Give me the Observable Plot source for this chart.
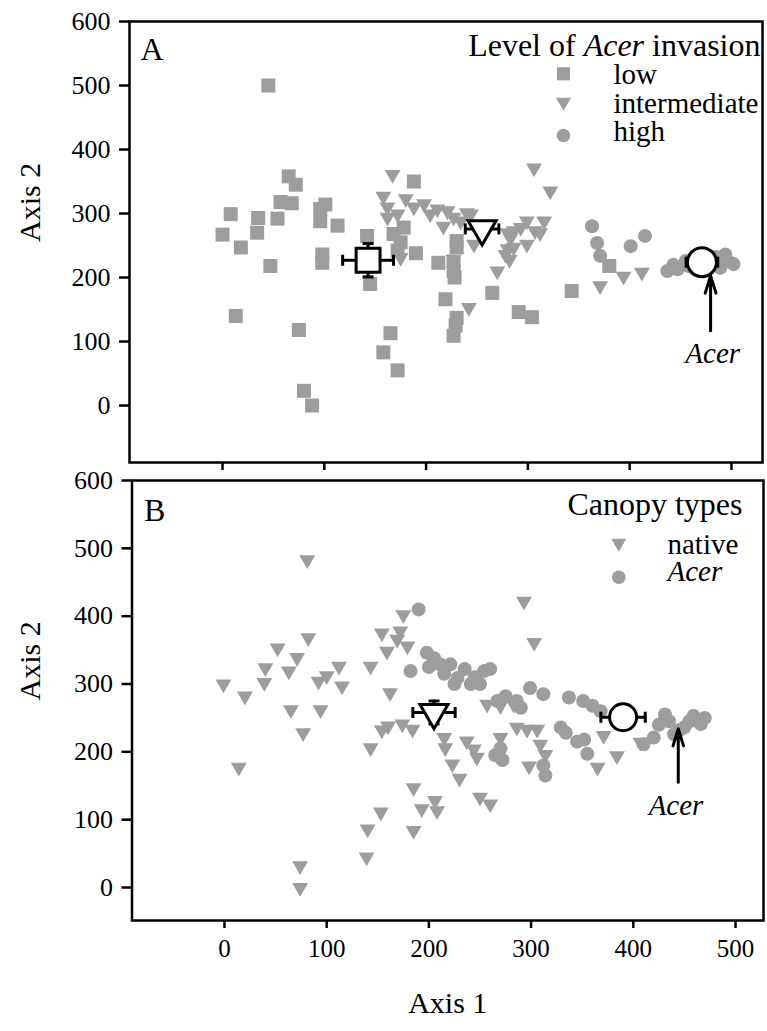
<!DOCTYPE html>
<html>
<head>
<meta charset="utf-8">
<script src="https://cdn.jsdelivr.net/npm/d3@7"></script>
<script src="https://cdn.jsdelivr.net/npm/@observablehq/plot@0.6"></script>
<style>
  html, body { margin: 0; padding: 0; background: #fff; }
  #chart { position: relative; width: 767px; height: 1031px; background: #fff; font-family: 'Liberation Serif', 'Times New Roman', serif; }
  #chart svg { position: absolute; left: 0; }
  #chart svg text { font-family: 'Liberation Serif', 'Times New Roman', serif; }
</style>
</head>
<body>
<div id="chart"></div>
<script>
// ---------- data ----------
const xTicks = [0, 100, 200, 300, 400, 500];
const yTicks = [0, 100, 200, 300, 400, 500, 600];

// Panel A: level of Acer invasion
const lowA = [
  [45,500],[65,358],[72,345],[188,350],
  [8,299],[35,293],[54,292],[57,318],[68,316],[96,307],[101,314],[96,288],[113,281],
  [0,267],[34,270],[18,247],[47,218],[98,236],[98,223],
  [142,265],[145,190],[168,268],[178,278],[175,255],[190,238],[172,242],
  [13,140],[75,118],[80,23],[88,0],[165,113],[158,83],[172,55],
  [212,223],[227,225],[227,210],[228,200],[230,257],[230,247],
  [219,166],[230,137],[229,125],[227,109],[265,176],[291,146],[304,138],
  [343,179],[380,218]
];
const intermediateA = [
  [167,361],[306,371],[322,335],
  [158,327],[180,323],[162,310],[172,299],[188,310],[198,315],[211,307],[221,304],[204,299],
  [227,294],[240,301],[217,280],[234,288],[244,299],[162,294],
  [175,231],[227,228],[247,252],[242,153],[270,210],
  [299,288],[316,288],[307,273],[286,273],[293,278],[283,262],[299,252],[278,236],[312,270],[286,247],
  [280,270],[280,245],[282,228],
  [371,187],[394,202],[412,208]
];
const highA = [
  [363,280],[368,254],[371,234],[401,249],[415,265],
  [437,210],[447,213],[458,218],[465,212],[476,216],[489,215],[496,226],[502,221],
  [494,236],[485,232],[455,226],[443,220]
];
const centroidsA = [
  {group: "low", x: 143, y: 227, ex: 25, ey: 26},
  {group: "intermediate", x: 255, y: 276, ex: 16.5, ey: 0},
  {group: "high", x: 471, y: 224, ex: 15.5, ey: 0}
];
const legendA = ["low", "intermediate", "high"];
const arrowA = [{x: 479.5, y1: 117, y2: 203}];
const labelA = [{x: 481.6, y: 80.6, text: "Acer"}];

// Panel B: canopy types
const nativeB = [
  [81,483],[175,402],[154,375],[172,378],[169,366],[159,348],[179,356],
  [82,368],[52,353],[71,339],[40,324],[63,319],[92,304],[100,312],[112,326],[115,297],[143,326],
  [-1,300],[39,302],[20,282],[162,287],[65,262],[94,262],[77,228],[14,177],
  [154,232],[143,206],[160,238],[174,241],[184,233],
  [215,221],[216,206],[237,216],[244,204],[247,192],[223,182],[230,161],
  [185,147],[193,116],[206,128],[208,113],[153,111],[140,86],[185,84],[139,45],[74,32],[74,0],
  [250,133],[260,123],[270,221],[286,236],[296,233],[306,233],[309,211],[314,196],[298,179],
  [365,177],[371,224],[384,194],[407,214],[293,422],[303,361],
  [257,270],[270,268],[283,270]
];
const acerB = [
  [190,410],
  [182,319],[198,346],[205,338],[211,329],[221,329],[228,309],[241,300],[254,319],[215,315],
  [235,322],[245,310],[200,325],[225,300],[260,322],[250,300],
  [267,275],[275,282],[286,275],[290,265],[299,294],[312,285],
  [337,280],[351,275],[360,268],[368,260],
  [265,195],[272,188],[270,205],[312,180],[314,165],
  [329,236],[334,228],[345,215],[352,218],[355,197],
  [410,211],[420,221],[425,240],[431,255],[435,245],[440,226],[445,232],[450,236],[455,245],
  [459,253],[463,245],[466,241],[470,250]
];
const centroidsB = [
  {group: "native", x: 205, y: 258, ex: 20.7, ey: 17},
  {group: "Acer", x: 390, y: 251, ex: 21.7, ey: 0}
];
const legendB = ["native", "Acer"];
const arrowB = [{x: 444, y1: 155, y2: 234}];
const labelB = [{x: 441.8, y: 120.6, text: "Acer"}];

// ---------- helpers ----------
const FONT = "'Liberation Serif','Times New Roman',serif";
const GRAY = "#9d9d9d";
const pts = a => a.map(([x, y]) => ({x, y}));
const capSymbol = {draw(ctx, size) { const h = Math.sqrt(size); ctx.moveTo(0, -h / 2); ctx.lineTo(0, h / 2); }};
const CAP_R = 11 / Math.sqrt(Math.PI);

function errorMarks(c) {
  const ex = c.filter(d => d.ex > 0), ey = c.filter(d => d.ey > 0);
  const s = {stroke: "black", strokeWidth: 3};
  return [
    Plot.link(ex, {x1: d => d.x - d.ex, x2: d => d.x + d.ex, y1: "y", y2: "y", ...s}),
    Plot.dot(ex, {x: d => d.x - d.ex, y: "y", symbol: capSymbol, r: CAP_R, ...s}),
    Plot.dot(ex, {x: d => d.x + d.ex, y: "y", symbol: capSymbol, r: CAP_R, ...s}),
    Plot.link(ey, {x1: "x", x2: "x", y1: d => d.y - d.ey, y2: d => d.y + d.ey, ...s}),
    Plot.dot(ey, {x: "x", y: d => d.y - d.ey, symbol: capSymbol, rotate: 90, r: CAP_R, ...s}),
    Plot.dot(ey, {x: "x", y: d => d.y + d.ey, symbol: capSymbol, rotate: 90, r: CAP_R, ...s})
  ];
}
const centroidStyle = {x: "x", y: "y", fill: "white", stroke: "black", strokeWidth: 3};
const T = {fontFamily: FONT};
const rowText = (label, dx, dy, extra = {}) =>
  Plot.text([label], {text: d => d, frameAnchor: "top-left", dx, dy, textAnchor: "start", lineAnchor: "bottom", fontSize: 29, ...T, ...extra});

// ---------- panel A ----------
const plotA = Plot.plot({
  width: 767, height: 477,
  marginLeft: 129, marginRight: 5, marginTop: 21, marginBottom: 15,
  x: {domain: [-91.4, 530.5]},
  y: {domain: [-89, 600]},
  style: {fontFamily: FONT, background: "transparent", color: "black", overflow: "visible"},
  marks: [
    Plot.axisY({ticks: yTicks, tickSize: 10, tickPadding: 9, fontSize: 26, strokeWidth: 2.5, label: null, tickFormat: d3.format("d"), ...T}),
    Plot.axisX({ticks: xTicks, tickSize: 8, strokeWidth: 2.5, label: null, tickFormat: () => ""}),
    Plot.text(["Axis 2"], {text: d => d, frameAnchor: "left", rotate: -90, dx: -99, fontSize: 30, lineAnchor: "middle", ...T}),
    Plot.dot(pts(lowA), {x: "x", y: "y", symbol: "square", r: 7.9, fill: GRAY}),
    Plot.dot(pts(intermediateA), {x: "x", y: "y", symbol: "triangle", rotate: 180, r: 5.9, fill: GRAY}),
    Plot.dot(pts(highA), {x: "x", y: "y", symbol: "circle", r: 7, fill: GRAY}),
    ...errorMarks(centroidsA),
    Plot.dot(centroidsA.filter(d => d.group === "low"), {...centroidStyle, symbol: "square", r: 13.5}),
    Plot.dot(centroidsA.filter(d => d.group === "intermediate"), {...centroidStyle, symbol: "triangle", rotate: 180, r: 10.4}),
    Plot.dot(centroidsA.filter(d => d.group === "high"), {...centroidStyle, symbol: "circle", r: 14.5}),
    Plot.arrow(arrowA, {x1: "x", x2: "x", y1: "y1", y2: "y2", stroke: "black", strokeWidth: 3, headLength: 26, headAngle: 34}),
    Plot.text(labelA, {x: "x", y: "y", text: "text", fontStyle: "italic", fontSize: 29, lineAnchor: "middle", ...T}),
    Plot.text(["A"], {text: d => d, frameAnchor: "top-left", dx: 11, dy: 38, textAnchor: "start", lineAnchor: "bottom", fontSize: 32, ...T}),
    Plot.text(["Level of Acer invasion"], {text: d => d, frameAnchor: "top-right", dx: -2, dy: 34, textAnchor: "end", lineAnchor: "bottom", fontSize: 32, ...T}),
    rowText(legendA[0], 484, 62),
    rowText(legendA[1], 484, 91),
    rowText(legendA[2], 484, 119),
    Plot.dot([0], {frameAnchor: "top-left", dx: 434, dy: 52.3, symbol: "square", r: 7.4, fill: GRAY}),
    Plot.dot([0], {frameAnchor: "top-left", dx: 434, dy: 80.5, symbol: "triangle", rotate: 180, r: 5.6, fill: GRAY}),
    Plot.dot([0], {frameAnchor: "top-left", dx: 434, dy: 114, symbol: "circle", r: 6.8, fill: GRAY}),
    Plot.frame({stroke: "black", strokeWidth: 2.5})
  ]
});

// ---------- panel B ----------
const plotB = Plot.plot({
  width: 767, height: 554,
  marginLeft: 131.5, marginRight: 4, marginTop: 3, marginBottom: 111,
  x: {domain: [-90.5, 527.4]},
  y: {domain: [-48.65, 600]},
  style: {fontFamily: FONT, background: "transparent", color: "black", overflow: "visible"},
  marks: [
    Plot.axisY({ticks: yTicks, tickSize: 10, tickPadding: 9, fontSize: 26, strokeWidth: 2.5, label: null, tickFormat: d3.format("d"), ...T}),
    Plot.axisX({ticks: xTicks, tickSize: 8, tickPadding: 11, fontSize: 25, strokeWidth: 2.5, label: null, tickFormat: d3.format("d"), ...T}),
    Plot.text(["Axis 2"], {text: d => d, frameAnchor: "left", rotate: -90, dx: -101.5, fontSize: 30, lineAnchor: "middle", ...T}),
    Plot.text(["Axis 1"], {text: d => d, frameAnchor: "bottom", dy: 83, lineAnchor: "middle", fontSize: 30, ...T}),
    Plot.dot(pts(nativeB), {x: "x", y: "y", symbol: "triangle", rotate: 180, r: 5.9, fill: GRAY}),
    Plot.dot(pts(acerB), {x: "x", y: "y", symbol: "circle", r: 7, fill: GRAY}),
    ...errorMarks(centroidsB),
    Plot.dot(centroidsB.filter(d => d.group === "native"), {...centroidStyle, symbol: "triangle", rotate: 180, r: 10.4}),
    Plot.dot(centroidsB.filter(d => d.group === "Acer"), {...centroidStyle, symbol: "circle", r: 13.5}),
    Plot.arrow(arrowB, {x1: "x", x2: "x", y1: "y1", y2: "y2", stroke: "black", strokeWidth: 3, headLength: 26, headAngle: 34}),
    Plot.text(labelB, {x: "x", y: "y", text: "text", fontStyle: "italic", fontSize: 29, lineAnchor: "middle", ...T}),
    Plot.text(["B"], {text: d => d, frameAnchor: "top-left", dx: 12, dy: 40, textAnchor: "start", lineAnchor: "bottom", fontSize: 32, ...T}),
    Plot.text(["Canopy types"], {text: d => d, frameAnchor: "top-right", dx: -21, dy: 34, textAnchor: "end", lineAnchor: "bottom", fontSize: 32, ...T}),
    rowText(legendB[0], 535.5, 73),
    rowText(legendB[1], 535.5, 100, {fontStyle: "italic"}),
    Plot.dot([0], {frameAnchor: "top-left", dx: 486.8, dy: 62.5, symbol: "triangle", rotate: 180, r: 5.6, fill: GRAY}),
    Plot.dot([0], {frameAnchor: "top-left", dx: 486.8, dy: 96.7, symbol: "circle", r: 6.8, fill: GRAY}),
    Plot.frame({stroke: "black", strokeWidth: 2.5})
  ]
});

const chart = document.getElementById("chart");
plotA.style.top = "0px";
plotB.style.top = "477px";
chart.append(plotA, plotB);

// italicise the genus name inside the panel A legend title
const SVGNS = "http://www.w3.org/2000/svg";
for (const t of plotA.querySelectorAll("text")) {
  if (t.textContent === "Level of Acer invasion") {
    t.textContent = "";
    t.setAttribute("xml:space", "preserve");
    const parts = [["Level of ", null], ["Acer", "italic"], [" invasion", null]];
    for (const [s, style] of parts) {
      const ts = document.createElementNS(SVGNS, "tspan");
      if (style) ts.setAttribute("font-style", style);
      ts.textContent = s;
      t.appendChild(ts);
    }
  }
}
</script>
</body>
</html>
